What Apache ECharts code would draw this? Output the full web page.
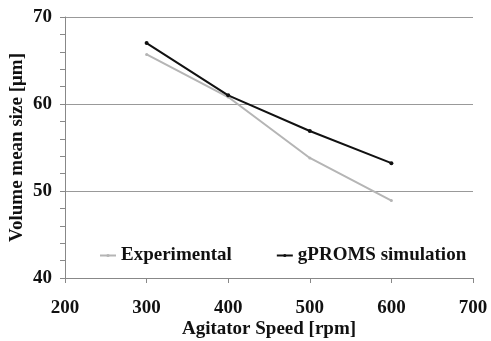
<!DOCTYPE html>
<html>
<head>
<meta charset="utf-8">
<script src="https://cdn.jsdelivr.net/npm/echarts@6/dist/echarts.min.js"></script>
<style>
  html, body { margin: 0; padding: 0; background: #fff; }
  #chart { width: 491px; height: 341px; }
</style>
</head>
<body>
<div id="chart"></div>
<script>
// Volume mean size vs agitator speed: experiment vs gPROMS model
const speeds = [300, 400, 500, 600];
const experimental = [65.7, 60.8, 53.8, 48.9];
const gproms = [67.0, 61.0, 56.9, 53.2];

const FONT = '"Liberation Serif", "DejaVu Serif", serif';
const TEXT = { fontFamily: FONT, fontWeight: 'bold', fontSize: 19, color: '#111' };
const toPairs = (ys) => speeds.map((x, i) => [x, ys[i]]);

const chart = echarts.init(document.getElementById('chart'), null, { renderer: 'canvas' });

chart.setOption({
  backgroundColor: '#fff',
  animation: false,
  grid: { left: 65, right: 18, top: 17, bottom: 63, outerBoundsMode: 'none', containLabel: false },
  legend: {
    left: 94,
    top: 241,
    itemWidth: 16,
    itemHeight: 4,
    itemGap: 44,
    textStyle: TEXT,
    data: ['Experimental', 'gPROMS simulation'],
  },
  xAxis: {
    type: 'value',
    min: 200,
    max: 700,
    interval: 100,
    name: 'Agitator Speed [rpm]',
    nameLocation: 'middle',
    nameGap: 42,
    nameMoveOverlap: false,
    nameTextStyle: TEXT,
    axisLine: { lineStyle: { color: '#888', width: 1 } },
    axisTick: { show: true, length: 5, lineStyle: { color: '#888' } },
    axisLabel: Object.assign({ margin: 21 }, TEXT),
    splitLine: { show: false },
  },
  yAxis: {
    type: 'value',
    min: 40,
    max: 70,
    interval: 10,
    name: 'Volume mean size [\u03bcm]',
    nameLocation: 'middle',
    nameGap: 38,
    nameMoveOverlap: false,
    nameTextStyle: TEXT,
    axisLine: { show: true, lineStyle: { color: '#888', width: 1 } },
    axisTick: { show: true, length: 5, lineStyle: { color: '#888' } },
    minorTick: { show: true, splitNumber: 5, length: 5, lineStyle: { color: '#888' } },
    axisLabel: Object.assign({ margin: 13 }, TEXT),
    splitLine: { show: true, lineStyle: { color: '#999', width: 1 } },
  },
  series: [
    {
      name: 'Experimental',
      type: 'line',
      data: toPairs(experimental),
      symbol: 'circle',
      symbolSize: 3,
      color: '#b5b5b5',
      lineStyle: { width: 2, color: '#b5b5b5' },
      itemStyle: { color: '#b5b5b5' },
    },
    {
      name: 'gPROMS simulation',
      type: 'line',
      data: toPairs(gproms),
      symbol: 'circle',
      symbolSize: 4,
      color: '#111',
      lineStyle: { width: 2, color: '#111' },
      itemStyle: { color: '#111' },
    },
  ],
});
</script>
</body>
</html>
